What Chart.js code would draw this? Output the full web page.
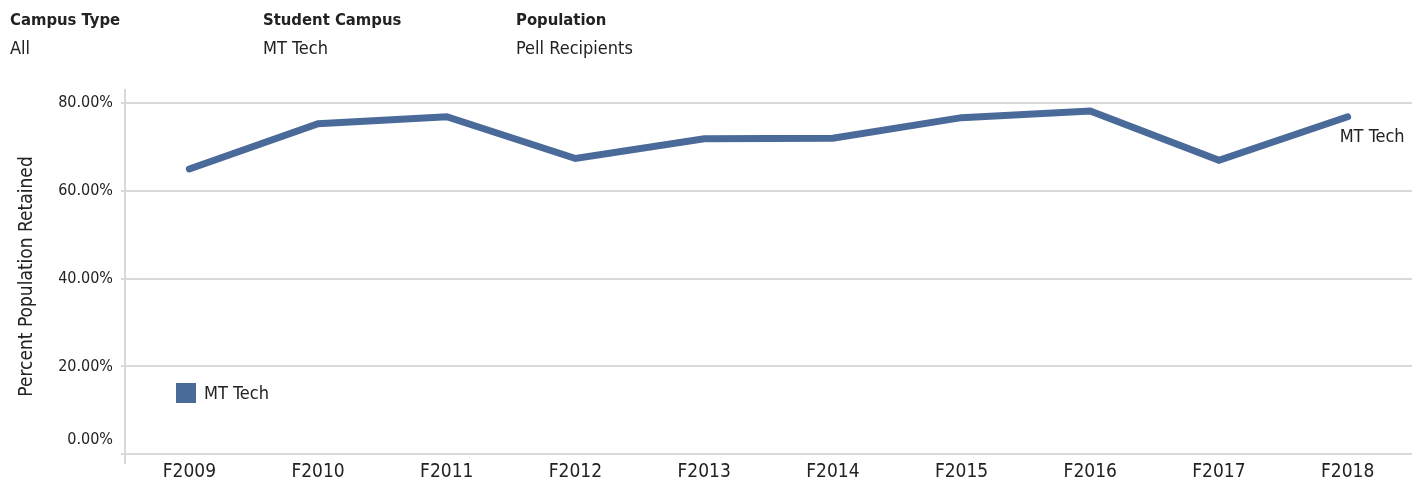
<!DOCTYPE html>
<html>
<head>
<meta charset="utf-8">
<script src="https://cdn.jsdelivr.net/npm/chart.js@4.4.1/dist/chart.umd.min.js"></script>
<style>
  body { margin: 0; background: #fff; }
  #wrap { position: relative; width: 1422px; height: 485px; }
  #chart { position: absolute; left: 0; top: 0; }
  .hdr { position: absolute; top: 6px; font-family: "DejaVu Sans Condensed", "Liberation Sans", sans-serif;
         font-size: 18px; line-height: 28px; color: #222; white-space: nowrap; }
  .hdr b { display: block; font-size: 16.5px; }
</style>
</head>
<body>
<div id="wrap">
  <canvas id="chart" width="1422" height="485"></canvas>
</div>
<script>
// filtres en haut
const filterNames = ["Campus Type", "Student Campus", "Population"];
const filterValues = ["All", "MT Tech", "Pell Recipients"];
const filterLeft = [10, 263, 516];

// donnees
const years = ["F2009", "F2010", "F2011", "F2012", "F2013", "F2014", "F2015", "F2016", "F2017", "F2018"];
const retained = [65.0, 75.3, 76.9, 67.4, 71.9, 72.0, 76.7, 78.2, 67.0, 76.9];
const yTicks = [0, 20, 40, 60, 80];
const seriesName = "MT Tech";

const FONT = '"DejaVu Sans Condensed", "Liberation Sans", sans-serif';
const BLUE = "#4a6a9a";

filterNames.forEach((name, i) => {
    const d = document.createElement("div");
    d.className = "hdr";
    d.style.left = filterLeft[i] + "px";
    d.innerHTML = "<b>" + name + "</b>" + filterValues[i];
    document.getElementById("wrap").appendChild(d);
});

// legende + etiquette en bout de ligne
const inlineLabels = {
    id: "inlineLabels",
    afterDatasetsDraw(chart) {
        const ctx = chart.ctx;
        const ds = chart.data.datasets[0];
        const pts = chart.getDatasetMeta(0).data;
        const last = pts[pts.length - 1];
        const area = chart.chartArea;
        ctx.save();
        ctx.font = "18px " + FONT;
        ctx.fillStyle = "#222";
        ctx.textBaseline = "middle";
        ctx.textAlign = "left";
        ctx.fillText(ds.label, last.x - 8, last.y + 21);
        // legende
        ctx.fillStyle = ds.borderColor;
        ctx.fillRect(area.left + 51, area.bottom - 80, 20, 20);
        ctx.fillStyle = "#222";
        ctx.fillText(ds.label, area.left + 79, area.bottom - 69);
        ctx.restore();
    }
};

Chart.defaults.font.family = FONT;

new Chart(document.getElementById("chart"), {
    type: "line",
    data: {
        labels: years,
        datasets: [{
            label: seriesName,
            data: retained,
            borderColor: BLUE,
            backgroundColor: BLUE,
            borderWidth: 7,
            borderCapStyle: "round",
            pointRadius: 0,
            tension: 0
        }]
    },
    options: {
        responsive: false,
        animation: false,
        layout: { padding: { top: 90, right: 10, left: 0, bottom: 0 } },
        plugins: {
            legend: { display: false },
            tooltip: { enabled: false }
        },
        scales: {
            x: {
                offset: true,
                grid: { display: false, drawTicks: false },
                border: { display: false },
                ticks: {
                    color: "#222",
                    font: { size: 19, lineHeight: 1 },
                    padding: 0,
                    maxRotation: 0,
                    autoSkip: false
                },
                afterFit: s => { s.height = 22; }
            },
            y: {
                min: -2,
                max: 83,
                afterBuildTicks: s => { s.ticks = yTicks.map(v => ({ value: v })); },
                afterFit: s => {
                    s.width = 125;
                    s.paddingTop = 0;
                    s.paddingBottom = 0;
                },
                grid: { color: "#d9d9d9", lineWidth: 2, tickLength: 4 },
                border: { color: "#d9d9d9", width: 2 },
                ticks: {
                    color: "#222",
                    padding: 8,
                    font: c => ({ size: 16, lineHeight: c.tick && c.tick.value === 0 ? "28px" : 1.2 }),
                    // le 0 est remonte comme dans l'original
                    callback: v => v === 0 ? ["0.00%", ""] : v.toFixed(2) + "%"
                },
                title: {
                    display: true,
                    text: "Percent Population Retained",
                    color: "#222",
                    font: { size: 19 },
                    padding: { top: 16, bottom: 0 }
                }
            }
        }
    },
    plugins: [inlineLabels]
});
</script>
</body>
</html>
